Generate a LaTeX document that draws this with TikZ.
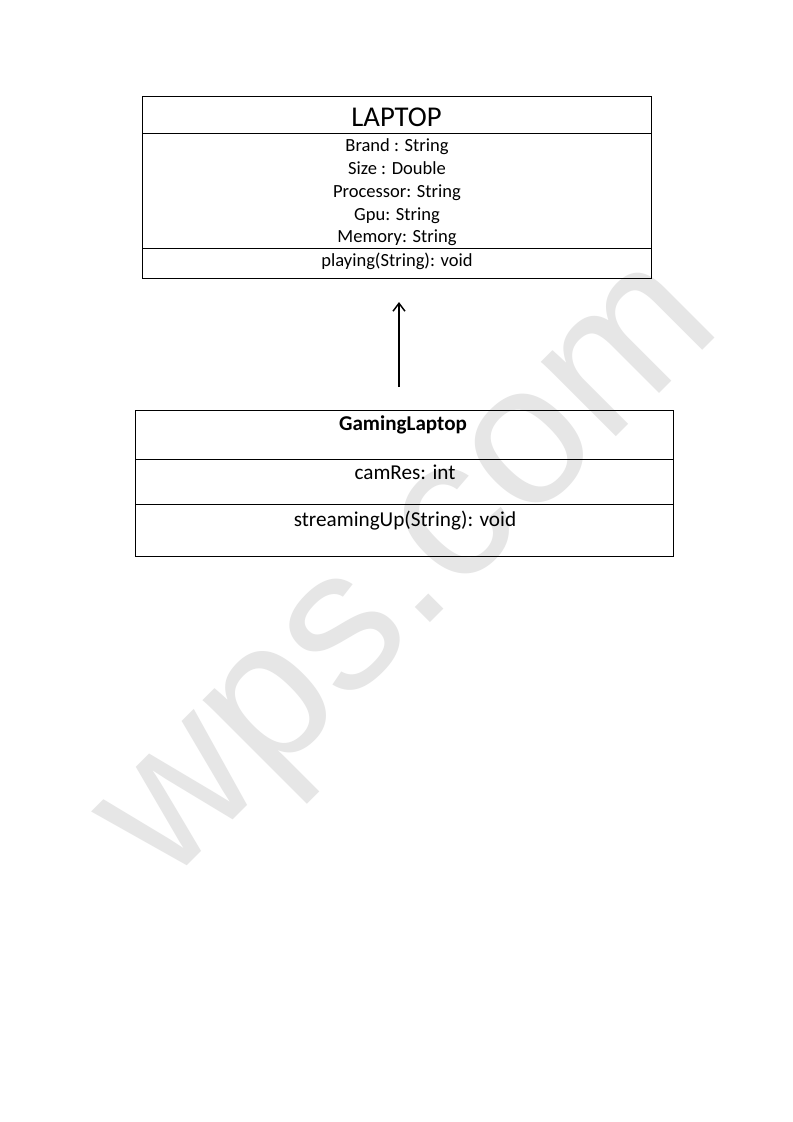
\documentclass[tikz,border=0pt]{standalone}
\usepackage{fontspec}
\setmainfont{Carlito}
\newfontfamily\wmfont{Liberation Sans}
\usetikzlibrary{arrows.meta}
\definecolor{wmgray}{RGB}{230,230,230}
\tikzset{
  classbox/.style={draw=black, line width=0.75pt, inner sep=0pt, fill=none},
  divider/.style={draw=black, line width=0.75pt},
  titletext/.style={inner sep=0pt, anchor=base, font=\fontsize{21.5}{24}\selectfont},
  attrtext/.style={inner sep=0pt, anchor=base, font=\fontsize{13.9}{16}\selectfont},
  gtitle/.style={inner sep=0pt, anchor=base, font=\fontsize{15.8}{18}\selectfont\bfseries},
  gtext/.style={inner sep=0pt, anchor=base, font=\fontsize{15.9}{18}\selectfont},
  inherit/.style={draw=black, line width=1.1pt, -{Straight Barb[length=6pt,width=9pt,line width=1.1pt]}},
  watermark/.style={inner sep=0pt, anchor=base west, rotate=45, text=wmgray, font=\wmfont\fontsize{150}{150}\selectfont}
}
\begin{document}
\begin{tikzpicture}[x=0.75pt, y=-0.75pt]
\useasboundingbox (0,0) rectangle (793,1122);
\fill[white] (0,0) rectangle (793,1122);
% watermark
\node[watermark] (wm) at (166,887) {wps.com};
% LAPTOP class
\node[classbox, minimum width=381.75pt, minimum height=136.5pt] (laptop) at (396.5,187) {};
\coordinate (ld1) at (142,133);
\coordinate (ld2) at (142,248);
\draw[divider] (ld1) -- (ld1 -| laptop.east);
\draw[divider] (ld2) -- (ld2 -| laptop.east);
\node[titletext] (ltitle) at (396.5,126) {LAPTOP};
\node[attrtext] (brand) at (397,151) {Brand : String};
\node[attrtext] (size) at (397,174) {Size : Double};
\node[attrtext] (proc) at (397,197) {Processor: String};
\node[attrtext] (gpu) at (397,220) {Gpu: String};
\node[attrtext] (mem) at (397,242) {Memory: String};
\node[attrtext] (play) at (397,266) {playing(String): void};
% GamingLaptop class
\node[classbox, minimum width=403.5pt, minimum height=109.5pt] (gaming) at (404,483) {};
\coordinate (gd1) at (135,459);
\coordinate (gd2) at (135,504);
\draw[divider] (gd1) -- (gd1 -| gaming.east);
\draw[divider] (gd2) -- (gd2 -| gaming.east);
\node[gtitle] (gname) at (403,430) {GamingLaptop};
\node[gtext] (cam) at (405,479) {camRes: int};
\node[gtext] (stream) at (405,526) {streamingUp(String): void};
% inheritance arrow
\coordinate (aS) at (399,387);
\coordinate (aE) at (399,302);
\draw[inherit] (aS) -- (aE);
\end{tikzpicture}
\end{document}
